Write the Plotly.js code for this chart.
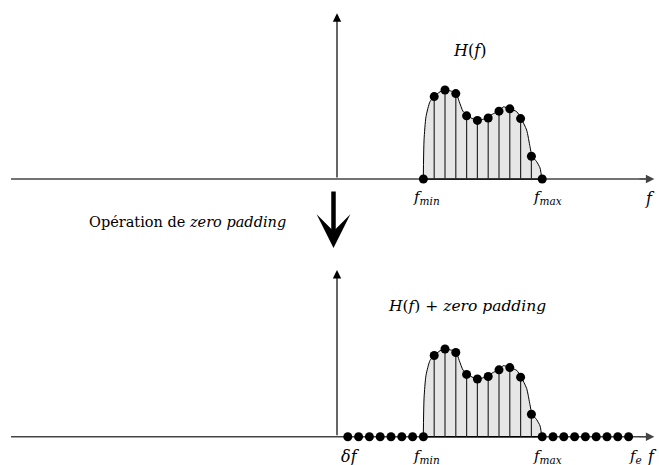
<!DOCTYPE html>
<html>
<head>
<meta charset="utf-8">
<script src="https://cdn.plot.ly/plotly-3.0.1.min.js"></script>
<style>html,body{margin:0;padding:0;background:#fff;}#chart{width:659px;height:465px;}</style>
</head>
<body>
<div id="chart"></div>
<script>
// ---- data (frequency index in units of delta f, normalized amplitude) ----
const sampleIdx = [8, 9, 10, 11, 12, 13, 14, 15, 16, 17, 18, 19];
const sampleH   = [0, 0.926, 1.0, 0.96, 0.71, 0.658, 0.686, 0.762, 0.788, 0.679, 0.256, 0];
const zeroLeftIdx  = [1, 2, 3, 4, 5, 6, 7];
const zeroRightIdx = [20, 21, 22, 23, 24, 25, 26, 27];
// continuous spectrum envelope H(f)
const envX = [7.99, 8.06, 8.24, 8.61, 9.0, 9.54, 10.06, 10.5, 11.02, 11.32, 11.67, 12.0, 12.5, 13.03, 13.5, 14.0, 14.5, 15.0, 15.4, 15.99, 16.64, 17.04, 17.56, 17.87, 18.06, 18.49, 18.8, 18.95, 19.05];
const envH = [0, 0.44, 0.70, 0.869, 0.925, 0.98, 1.0, 0.99, 0.963, 0.869, 0.76, 0.727, 0.68, 0.663, 0.67, 0.70, 0.735, 0.764, 0.81, 0.79, 0.756, 0.682, 0.55, 0.363, 0.258, 0.194, 0.124, 0.026, 0];
// labels
const topTitle = '<i>H</i>(<i>f</i>)';
const bottomTitle = '<i>H</i>(<i>f</i>) + <i>zero padding</i>';
const opLabel = 'Opération de <i>zero padding</i>';
const fminLabel = '<i>f</i><sub><i>min</i></sub>';
const fmaxLabel = '<i>f</i><sub><i>max</i></sub>';
const dfLabel = '<i>δf</i>';
const feLabel = '<i>f</i><sub><i>e</i></sub>';
const fLabel = '<i>f</i>';

// ---- geometry ----
const W = 659, H = 465;
const pxPerUnit = 10.8, originPx = 337;
const xr = [-originPx / pxPerUnit, (W - originPx) / pxPerUnit];
const topBase = 179, topScale = 89;     // pixels
const botBase = 436.7, botScale = 87.7;
const yr1 = [-(232.5 - topBase) / topScale, topBase / topScale];
const yr2 = [-(465 - botBase) / botScale, (botBase - 232.5) / botScale];
const axStart = (11 - originPx) / pxPerUnit, axEnd = (654.3 - originPx) / pxPerUnit;
const vTop1 = (topBase - 13.3) / topScale, vTop2 = (botBase - 270) / botScale;

const FONT = 'DejaVu Serif';

function stems(idx, h) {
  const x = [], y = [];
  for (let i = 0; i < idx.length; i++) {
    if (h[i] === 0) continue;
    x.push(idx[i], idx[i], null); y.push(0, h[i], null);
  }
  return {x, y};
}
function panel(xa, ya, dotsX, dotsY) {
  const s = stems(sampleIdx, sampleH);
  return [
    {x: envX, y: envH, xaxis: xa, yaxis: ya, type: 'scatter', mode: 'lines',
     line: {color: '#000', width: 1, shape: 'spline', smoothing: 0.6},
     fill: 'tozeroy', fillcolor: '#e6e6e6', hoverinfo: 'skip'},
    {x: [sampleIdx[0], sampleIdx[sampleIdx.length - 1]], y: [0, 0], xaxis: xa, yaxis: ya,
     type: 'scatter', mode: 'lines', line: {color: '#000', width: 1.5}, hoverinfo: 'skip'},
    {x: s.x, y: s.y, xaxis: xa, yaxis: ya, type: 'scatter', mode: 'lines',
     line: {color: '#2a2a2a', width: 1.2}, hoverinfo: 'skip'},
    {x: dotsX, y: dotsY, xaxis: xa, yaxis: ya, type: 'scatter', mode: 'markers',
     marker: {color: '#000', size: 9}, hoverinfo: 'skip'}
  ];
}

const botX = zeroLeftIdx.concat(sampleIdx, zeroRightIdx);
const botY = zeroLeftIdx.map(() => 0).concat(sampleH, zeroRightIdx.map(() => 0));

const traces = panel('x', 'y', sampleIdx, sampleH).concat(panel('x2', 'y2', botX, botY));

function lbl(text, xref, yref, x, y, size, extra) {
  return Object.assign({text, xref, yref, x, y, showarrow: false,
    font: {family: FONT, size: size, color: '#000'}, xanchor: 'center', yanchor: 'middle'}, extra || {});
}
function arrowHead(xref, yref, x, y, ax, ay, color) {
  return {text: '', xref, yref, x, y, axref: xref, ayref: yref, ax, ay, showarrow: true,
    arrowhead: 2, arrowsize: 1.4, arrowwidth: 1.2, arrowcolor: color, standoff: 0};
}

const annotations = [
  // vertical axes
  arrowHead('x', 'y', 0, vTop1, 0, 0, '#000'),
  arrowHead('x2', 'y2', 0, vTop2, 0, 0, '#000'),
  // horizontal axes arrow heads
  arrowHead('x', 'y', axEnd, 0, axEnd - 1.5, 0, '#444'),
  arrowHead('x2', 'y2', axEnd, 0, axEnd - 1.5, 0, '#444'),
  // big operation arrow
  {text: '', xref: 'paper', yref: 'paper', x: 333.5 / W, y: 1 - 248 / H, ax: 0, ay: -58,
   showarrow: true, arrowhead: 3, arrowsize: 1.25, arrowwidth: 4.5, arrowcolor: '#000', standoff: 0},
  lbl(opLabel, 'paper', 'paper', 187.5 / W, 1 - 222 / H, 14.5),
  // top labels
  lbl(topTitle, 'x', 'y', (469 - originPx) / pxPerUnit, (topBase - 50) / topScale, 16),
  lbl(fminLabel, 'x', 'y', sampleIdx[0], (topBase - 197) / topScale, 15, {xshift: 3}),
  lbl(fmaxLabel, 'x', 'y', sampleIdx[sampleIdx.length - 1], (topBase - 197) / topScale, 15, {xshift: 5}),
  lbl(fLabel, 'x', 'y', (650 - originPx) / pxPerUnit, (topBase - 198) / topScale, 16),
  // bottom labels
  lbl(bottomTitle, 'x2', 'y2', (467 - originPx) / pxPerUnit, (botBase - 306) / botScale, 15.5),
  lbl(dfLabel, 'x2', 'y2', zeroLeftIdx[0], (botBase - 456) / botScale, 16, {xshift: 3}),
  lbl(fminLabel, 'x2', 'y2', sampleIdx[0], (botBase - 456) / botScale, 15, {xshift: 3}),
  lbl(fmaxLabel, 'x2', 'y2', sampleIdx[sampleIdx.length - 1], (botBase - 456) / botScale, 15, {xshift: 5}),
  lbl(feLabel, 'x2', 'y2', zeroRightIdx[zeroRightIdx.length - 1], (botBase - 456) / botScale, 15, {xshift: 7}),
  lbl(fLabel, 'x2', 'y2', (652 - originPx) / pxPerUnit, (botBase - 456) / botScale, 16)
];

const shapes = [
  {type: 'line', xref: 'x', yref: 'y', x0: axStart, x1: axEnd - 0.3, y0: 0, y1: 0,
   line: {color: '#444', width: 1.5}, layer: 'below'},
  {type: 'line', xref: 'x2', yref: 'y2', x0: axStart, x1: axEnd - 0.3, y0: 0, y1: 0,
   line: {color: '#444', width: 1.5}, layer: 'below'}
];

const hidden = {visible: false, showgrid: false, zeroline: false, fixedrange: true};
const layout = {
  width: W, height: H, margin: {l: 0, r: 0, t: 0, b: 0},
  paper_bgcolor: '#fff', plot_bgcolor: 'rgba(0,0,0,0)', showlegend: false,
  font: {family: FONT},
  xaxis: Object.assign({range: xr, anchor: 'y'}, hidden),
  yaxis: Object.assign({range: yr1, domain: [0.5, 1], anchor: 'x'}, hidden),
  xaxis2: Object.assign({range: xr, anchor: 'y2'}, hidden),
  yaxis2: Object.assign({range: yr2, domain: [0, 0.5], anchor: 'x2'}, hidden),
  annotations, shapes
};
Plotly.newPlot('chart', traces, layout, {staticPlot: true, displayModeBar: false});
</script>
</body>
</html>
